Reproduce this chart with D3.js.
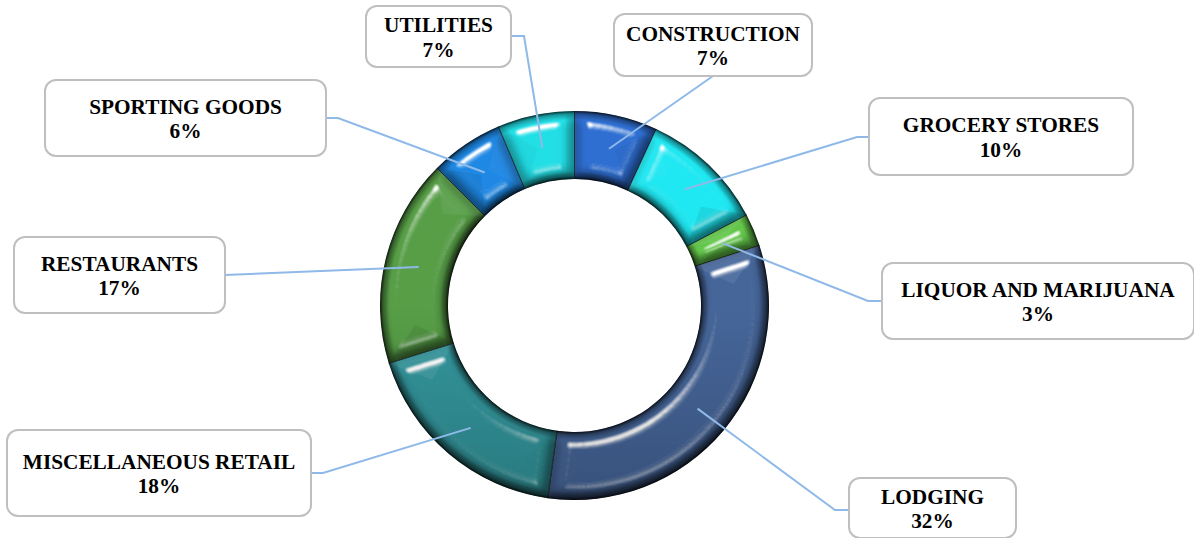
<!DOCTYPE html>
<html><head><meta charset="utf-8">
<script src="https://cdn.jsdelivr.net/npm/d3@7"></script>
<style>html,body{margin:0;padding:0;background:#fff;overflow:hidden}svg{display:block}</style>
</head><body><div id="c"></div>
<script>
const categories=["CONSTRUCTION","GROCERY STORES","LIQUOR AND MARIJUANA","LODGING","MISCELLANEOUS RETAIL","RESTAURANTS","SPORTING GOODS","UTILITIES"];
const values=[6.9,10.4,2.7,32.2,18.0,17.3,6.1,6.4];
const percentLabels=["7%","10%","3%","32%","18%","17%","6%","7%"];
const colors=["#2f6fd2","#20e8f2","#63c64a","#46669a","#33989e","#579e47","#1f88e4","#22dfe6"];
const boxes=[[614,14,812,76],[869,98,1133,175],[882,263,1194,339],[849,478,1016,538],[7,430,311,516],[14,237,225,313],[45,80,326,156],[366,6,511,67]];
const anchors=[[[713,76]],[[869,137],[857,137]],[[882,301],[868,301]],[[849,510],[835,510]],[[311,473],[323,473]],[[225,275]],[[326,118],[338,118]],[[511,36],[524,36]]];
const W=1194,H=538,cx=574.5,cy=305.5,R=194.5,r=126.5;
const svg=d3.select("#c").append("svg").attr("width",W).attr("height",H);
const defs=svg.append("defs");
const f=defs.append("filter").attr("id","bevel").attr("x","-30%").attr("y","-30%").attr("width","160%").attr("height","160%").attr("color-interpolation-filters","sRGB");
f.append("feGaussianBlur").attr("in","SourceAlpha").attr("stdDeviation",7).attr("result","b");
const sp=f.append("feSpecularLighting").attr("in","b").attr("surfaceScale",20).attr("specularConstant",1.3).attr("specularExponent",30).attr("lighting-color","#fff").attr("result","s");
sp.append("feDistantLight").attr("azimuth",250).attr("elevation",44);
f.append("feGaussianBlur").attr("in","s").attr("stdDeviation",1).attr("result","sb");
const ct1=f.append("feComponentTransfer").attr("in","sb").attr("result","sc");
ct1.append("feFuncA").attr("type","linear").attr("slope",1.3).attr("intercept",-0.17);
f.append("feComposite").attr("in","sc").attr("in2","SourceAlpha").attr("operator","in").attr("result","s2");
const sd=f.append("feSpecularLighting").attr("in","b").attr("surfaceScale",20).attr("specularConstant",0.4).attr("specularExponent",25).attr("lighting-color","#fff").attr("result","t");
sd.append("feDistantLight").attr("azimuth",70).attr("elevation",44);
const ct2=f.append("feComponentTransfer").attr("in","t").attr("result","tc");
ct2.append("feFuncA").attr("type","linear").attr("slope",1.1).attr("intercept",-0.05);
f.append("feComposite").attr("in","tc").attr("in2","SourceAlpha").attr("operator","in").attr("result","t2");
const di=f.append("feDiffuseLighting").attr("in","b").attr("surfaceScale",8).attr("diffuseConstant",1.05).attr("lighting-color","#fff").attr("result","d");
di.append("feDistantLight").attr("azimuth",250).attr("elevation",72);
f.append("feComposite").attr("in","SourceGraphic").attr("in2","d").attr("operator","arithmetic").attr("k1",1).attr("result","m");
f.append("feComposite").attr("in","m").attr("in2","SourceAlpha").attr("operator","in").attr("result","m2");
const mg=f.append("feMerge");mg.append("feMergeNode").attr("in","m2");mg.append("feMergeNode").attr("in","t2");mg.append("feMergeNode").attr("in","s2");

const rim=defs.append("radialGradient").attr("id","rim").attr("gradientUnits","userSpaceOnUse").attr("cx",0).attr("cy",0).attr("r",R);
[[r/R,0.8],[(r+3)/R,0.3],[(r+8)/R,0],[(R-9)/R,0],[(R-3)/R,0.3],[1,0.8]].forEach(s=>rim.append("stop").attr("offset",s[0]).attr("stop-color","#000").attr("stop-opacity",s[1]));
const shade=defs.append("linearGradient").attr("id","shade").attr("gradientUnits","userSpaceOnUse").attr("x1",0).attr("x2",0).attr("y1",-R).attr("y2",R);
[[0,0],[0.5,0],[1,0.2]].forEach(s=>shade.append("stop").attr("offset",s[0]).attr("stop-color","#000").attr("stop-opacity",s[1]));

const pie=d3.pie().sort(null).value(d=>d)(values);
const arc=d3.arc().innerRadius(r).outerRadius(R);
const g=svg.append("g").attr("transform",`translate(${cx},${cy})`);
const pt=(rad,a)=>[rad*Math.sin(a),-rad*Math.cos(a)];
const slices=g.selectAll("g.s").data(pie).join("g").attr("class","s");
slices.append("g").attr("filter","url(#bevel)").append("path").attr("d",arc).attr("fill",(d,i)=>colors[i]);
const line=d3.line();
slices.each(function(d){
  const sel=d3.select(this),span=d.endAngle-d.startAngle,rm=(R+r)/2;
  const depth=Math.min((R-r)/2,span*0.5*rm)*0.85;
  [[d.startAngle,1],[d.endAngle,-1]].forEach(([a,dir])=>{
    const p=line([pt(R,a),pt(r,a),pt(rm,a+dir*depth/rm)])+"Z";
    const up=(-Math.sin(a))*(-dir);
    sel.append("path").attr("d",p).attr("fill",up>0?"#fff":"#000").attr("fill-opacity",Math.abs(up)*0.08);
  });
  sel.append("path").attr("d",arc).attr("fill","url(#shade)");
  sel.append("path").attr("d",arc).attr("fill","url(#rim)");
  [d.startAngle,d.endAngle].forEach(a=>{
    sel.append("path").attr("d",line([pt(R,a),pt(r,a)])).attr("stroke","#000").attr("stroke-opacity",0.55).attr("stroke-width",1).attr("fill","none");
  });
});
const lead=d3.line();
pie.forEach((d,i)=>{
  const c=arc.centroid(d);
  svg.append("path").attr("d",lead([...anchors[i],[c[0]+cx,c[1]+cy]])).attr("fill","none").attr("stroke","#8fb9e8").attr("stroke-width",2);
});
const lab=svg.selectAll("g.l").data(categories).join("g").attr("class","l");
lab.append("rect").attr("x",(d,i)=>boxes[i][0]).attr("y",(d,i)=>boxes[i][1]).attr("width",(d,i)=>boxes[i][2]-boxes[i][0]).attr("height",(d,i)=>boxes[i][3]-boxes[i][1])
 .attr("rx",11).attr("fill","#fff").attr("stroke","#bfbfbf").attr("stroke-width",2);
const txt=lab.append("text").attr("text-anchor","middle").attr("font-family","'Liberation Serif',serif").attr("font-weight","bold").attr("font-size",21.3).attr("fill","#000");
txt.append("tspan").attr("x",(d,i)=>(boxes[i][0]+boxes[i][2])/2).attr("y",(d,i)=>(boxes[i][1]+boxes[i][3])/2-4.5).text(d=>d);
txt.append("tspan").attr("x",(d,i)=>(boxes[i][0]+boxes[i][2])/2).attr("y",(d,i)=>(boxes[i][1]+boxes[i][3])/2+20).text((d,i)=>percentLabels[i]);
</script></body></html>
